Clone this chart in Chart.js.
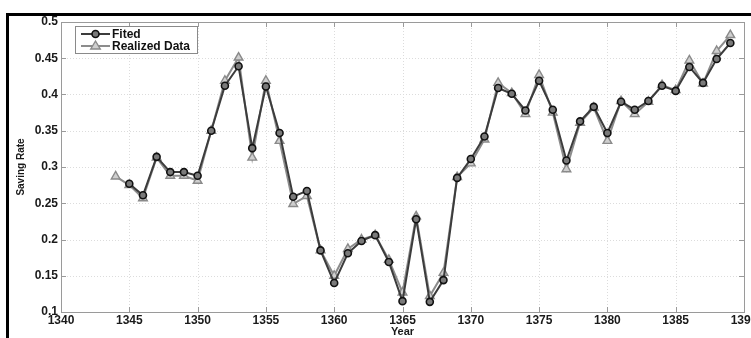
<!DOCTYPE html>
<html>
<head>
<meta charset="utf-8">
<script src="https://cdn.jsdelivr.net/npm/chart.js@4.4.1/dist/chart.umd.min.js"></script>
<style>
  html, body { margin: 0; padding: 0; background: #fff; }
  #wrap { position: relative; width: 751px; height: 338px; overflow: hidden; }
  canvas { display: block; }
</style>
</head>
<body>
<div id="wrap"><canvas id="c" width="751" height="338"></canvas></div>
<script>
const years = [1344,1345,1346,1347,1348,1349,1350,1351,1352,1353,1354,1355,1356,1357,1358,1359,1360,1361,1362,1363,1364,1365,1366,1367,1368,1369,1370,1371,1372,1373,1374,1375,1376,1377,1378,1379,1380,1381,1382,1383,1384,1385,1386,1387,1388,1389];
const fitted = [null,0.277,0.261,0.314,0.293,0.293,0.288,0.350,0.412,0.439,0.326,0.411,0.347,0.259,0.267,0.185,0.140,0.181,0.198,0.206,0.169,0.115,0.228,0.114,0.144,0.285,0.311,0.342,0.409,0.401,0.378,0.419,0.379,0.309,0.363,0.383,0.347,0.390,0.379,0.391,0.412,0.405,0.438,0.416,0.449,0.471];
const realized = [0.287,0.275,0.257,0.313,0.288,0.288,0.281,0.350,0.419,0.451,0.313,0.419,0.336,0.249,0.260,0.185,0.150,0.187,0.200,0.206,0.172,0.127,0.232,0.122,0.154,0.286,0.305,0.338,0.416,0.402,0.373,0.427,0.375,0.297,0.361,0.382,0.336,0.391,0.373,0.390,0.413,0.406,0.447,0.415,0.460,0.482];
const xTicks = [1340,1345,1350,1355,1360,1365,1370,1375,1380,1385,1390];
const yTicks = [0.1,0.15,0.2,0.25,0.3,0.35,0.4,0.45,0.5];
const yTickLabels = ['0.1','0.15','0.2','0.25','0.3','0.35','0.4','0.45','0.5'];
const seriesNames = ['Fited','Realized Data'];

const toPts = arr => years.map((y, i) => ({ x: y, y: arr[i] }));
const FONT = '"Liberation Sans", Arial, sans-serif';

const gridPlugin = {
  id: 'gridPlugin',
  beforeDatasetsDraw(chart) {
    const { ctx, chartArea: a, scales } = chart;
    ctx.save();
    ctx.strokeStyle = '#dcdcdc';
    ctx.lineWidth = 1;
    ctx.setLineDash([1, 2]);
    xTicks.forEach(v => {
      const px = Math.round(scales.x.getPixelForValue(v)) + 0.5;
      if (px <= a.left + 1 || px >= a.right - 1) return;
      ctx.beginPath(); ctx.moveTo(px, a.top); ctx.lineTo(px, a.bottom); ctx.stroke();
    });
    yTicks.forEach(v => {
      const py = Math.round(scales.y.getPixelForValue(v)) + 0.5;
      if (py <= a.top + 1 || py >= a.bottom - 1) return;
      ctx.beginPath(); ctx.moveTo(a.left, py); ctx.lineTo(a.right, py); ctx.stroke();
    });
    ctx.setLineDash([]);
    ctx.strokeStyle = '#9a9a9a';
    ctx.beginPath();
    xTicks.forEach(v => {
      const px = Math.round(scales.x.getPixelForValue(v)) + 0.5;
      ctx.moveTo(px, a.bottom); ctx.lineTo(px, a.bottom - 5);
      ctx.moveTo(px, a.top); ctx.lineTo(px, a.top + 5);
    });
    yTicks.forEach(v => {
      const py = Math.round(scales.y.getPixelForValue(v)) + 0.5;
      ctx.moveTo(a.left, py); ctx.lineTo(a.left + 5, py);
      ctx.moveTo(a.right, py); ctx.lineTo(a.right - 5, py);
    });
    ctx.stroke();
    ctx.strokeRect(Math.round(a.left) + 0.5, Math.round(a.top) + 0.5, Math.round(a.right - a.left), Math.round(a.bottom - a.top));
    ctx.restore();
  },
  afterDraw(chart) {
    const { ctx } = chart;
    ctx.save();
    const bx = 75, by = 26, bw = 122, bh = 27;
    ctx.fillStyle = '#fff';
    ctx.fillRect(bx, by, bw, bh);
    ctx.strokeStyle = '#8a8a8a';
    ctx.lineWidth = 1;
    ctx.strokeRect(bx + 0.5, by + 0.5, bw, bh);
    const rows = [34, 46];
    chart.data.datasets.forEach((ds, i) => {
      const y = rows[i];
      ctx.strokeStyle = ds.borderColor;
      ctx.lineWidth = ds.borderWidth;
      ctx.beginPath(); ctx.moveTo(81, y); ctx.lineTo(110, y); ctx.stroke();
      ctx.fillStyle = ds.pointBackgroundColor;
      ctx.strokeStyle = ds.pointBorderColor;
      ctx.lineWidth = ds.pointBorderWidth;
      ctx.beginPath();
      if (ds.pointStyle === 'circle') {
        ctx.arc(95.5, y, ds.pointRadius, 0, Math.PI * 2);
      } else {
        const r = ds.pointRadius;
        ctx.moveTo(95.5, y - r); ctx.lineTo(95.5 + r * 0.95, y + r * 0.6); ctx.lineTo(95.5 - r * 0.95, y + r * 0.6); ctx.closePath();
      }
      ctx.fill(); ctx.stroke();
      ctx.fillStyle = '#111';
      ctx.font = 'bold 12px ' + FONT;
      ctx.textBaseline = 'middle';
      ctx.fillText(ds.label, 112, y + 0.5);
    });
    ctx.fillStyle = '#000';
    ctx.fillRect(6, 13, 745, 3);
    ctx.fillRect(6, 13, 3, 325);
    ctx.restore();
  }
};

new Chart(document.getElementById('c'), {
  type: 'line',
  data: {
    datasets: [
      {
        label: seriesNames[0],
        data: toPts(fitted),
        borderColor: '#3c3c3c',
        borderWidth: 2,
        pointStyle: 'circle',
        pointRadius: 3.5,
        pointBackgroundColor: '#7a7a7a',
        pointBorderColor: '#111',
        pointBorderWidth: 1.6,
        tension: 0,
        fill: false
      },
      {
        label: seriesNames[1],
        data: toPts(realized),
        borderColor: '#8c8c8c',
        borderWidth: 2,
        pointStyle: 'triangle',
        pointRadius: 5,
        pointBackgroundColor: '#cfcfcf',
        pointBorderColor: '#8a8a8a',
        pointBorderWidth: 1.4,
        tension: 0,
        fill: false
      }
    ]
  },
  options: {
    responsive: false,
    animation: false,
    events: [],
    layout: { padding: { top: 22, right: 7, left: 0, bottom: 0 } },
    plugins: { legend: { display: false }, tooltip: { enabled: false } },
    scales: {
      x: {
        type: 'linear',
        min: 1340, max: 1390,
        afterBuildTicks: s => { s.ticks = xTicks.map(v => ({ value: v })); },
        afterFit: s => { s.height = 26; s.paddingLeft = 0; s.paddingRight = 0; },
        grid: { display: false, drawTicks: false },
        border: { display: false },
        ticks: {
          autoSkip: false, maxRotation: 0, padding: 1,
          color: '#1a1a1a',
          font: { family: FONT, size: 12, weight: 'bold' },
          callback: v => String(v)
        },
        title: {
          display: true, text: 'Year', color: '#1a1a1a',
          font: { family: FONT, size: 11, weight: 'bold' },
          padding: { top: 0, bottom: -1 }
        }
      },
      y: {
        min: 0.1, max: 0.5,
        afterBuildTicks: s => { s.ticks = yTicks.map(v => ({ value: v })); },
        afterFit: s => { s.width = 61; s.paddingTop = 0; s.paddingBottom = 0; },
        grid: { display: false, drawTicks: false },
        border: { display: false },
        ticks: {
          padding: 3,
          color: '#1a1a1a',
          font: { family: FONT, size: 12, weight: 'bold' },
          callback: (v) => { const i = yTicks.findIndex(t => Math.abs(t - v) < 1e-9); return i >= 0 ? yTickLabels[i] : ''; }
        },
        title: {
          display: true, text: 'Saving Rate', color: '#1a1a1a',
          font: { family: FONT, size: 10, weight: 'bold' },
          padding: { top: 15, bottom: 0 }
        }
      }
    }
  },
  plugins: [gridPlugin]
});
</script>
</body>
</html>
